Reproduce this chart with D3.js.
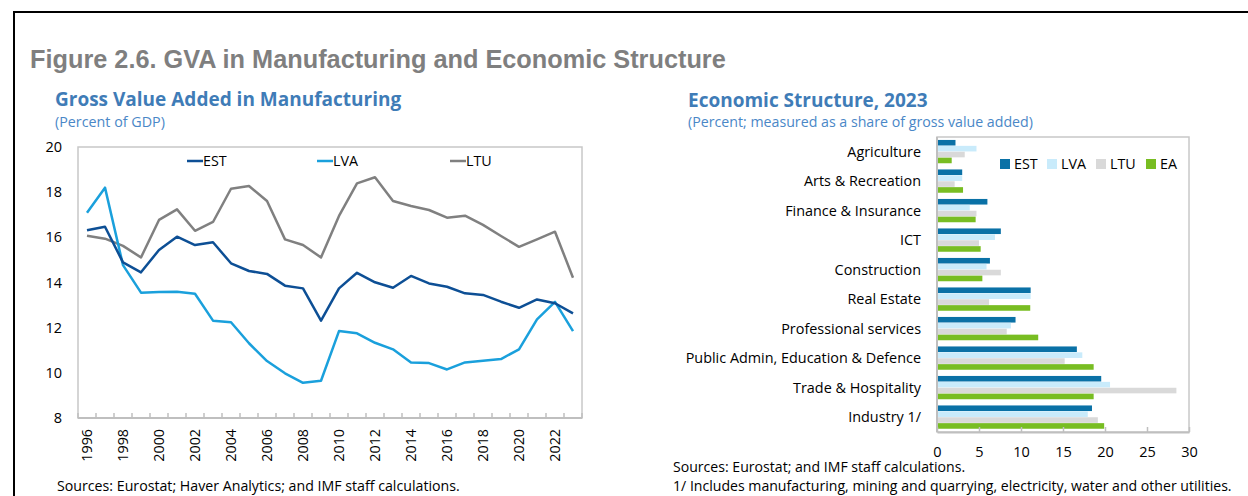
<!DOCTYPE html>
<html>
<head>
<meta charset="utf-8">
<script src="https://cdn.jsdelivr.net/npm/d3@7"></script>
<style>
  body { margin: 0; background: #fff; }
  text { font-family: "Open Sans", "Noto Sans", sans-serif; fill: #000; }
</style>
</head>
<body>
<div class="fig"></div>
<script>
// left panel: gross value added in manufacturing, percent of GDP
var years = [1996, 1997, 1998, 1999, 2000, 2001, 2002, 2003, 2004, 2005, 2006, 2007, 2008, 2009,
             2010, 2011, 2012, 2013, 2014, 2015, 2016, 2017, 2018, 2019, 2020, 2021, 2022, 2023];
var est = [16.31, 16.47, 14.89, 14.45, 15.44, 16.03, 15.66, 15.78, 14.85, 14.51, 14.38, 13.86, 13.74, 12.31,
           13.74, 14.43, 14.01, 13.77, 14.29, 13.96, 13.81, 13.52, 13.45, 13.15, 12.88, 13.25, 13.08, 12.63];
var lva = [17.09, 18.20, 14.77, 13.55, 13.58, 13.59, 13.50, 12.31, 12.24, 11.31, 10.52, 9.98, 9.56, 9.65,
           11.85, 11.75, 11.33, 11.04, 10.46, 10.43, 10.15, 10.46, 10.54, 10.61, 11.04, 12.37, 13.14, 11.85];
var ltu = [16.07, 15.94, 15.62, 15.11, 16.77, 17.24, 16.29, 16.68, 18.15, 18.27, 17.61, 15.91, 15.66, 15.11,
           16.95, 18.39, 18.66, 17.61, 17.39, 17.21, 16.87, 16.96, 16.55, 16.06, 15.58, 15.91, 16.25, 14.21];
var yTicks = [8, 10, 12, 14, 16, 18, 20];

// right panel: economic structure 2023, share of gross value added
var sectors = ["Agriculture", "Arts & Recreation", "Finance & Insurance", "ICT", "Construction",
               "Real Estate", "Professional services", "Public Admin, Education & Defence",
               "Trade & Hospitality", "Industry 1/"];
var shareEST = [2.2, 3.0, 6.0, 7.6, 6.3, 11.15, 9.35, 16.65, 19.55, 18.45];
var shareLVA = [4.7, 3.0, 3.9, 6.9, 5.9, 11.15, 8.8, 17.3, 20.6, 17.95];
var shareLTU = [3.3, 2.1, 4.7, 5.0, 7.6, 6.2, 8.3, 15.2, 28.5, 19.15];
var shareEA = [1.75, 3.1, 4.6, 5.2, 5.4, 11.1, 12.05, 18.65, 18.65, 19.9];
var barTicks = [0, 5, 10, 15, 20, 25, 30];

var svg = d3.select(".fig").append("svg")
    .attr("width", 1248)
    .attr("height", 496);

// outer frame
svg.append("rect")
    .attr("x", 14)
    .attr("y", 12)
    .attr("width", 1300)
    .attr("height", 600)
    .style("fill", "none")
    .style("stroke", "#000")
    .style("stroke-width", "2px");

svg.append("text")
    .text("Figure 2.6. GVA in Manufacturing and Economic Structure")
    .attr("x", 30)
    .attr("y", 68)
    .style("font-family", "'Liberation Sans', Arial, sans-serif")
    .style("font-weight", "bold")
    .style("font-size", "25.3px")
    .style("fill", "#7f7f7f");

// ---------- line chart ----------
var lc = { left: 78, right: 582, top: 147, bottom: 418 };

svg.append("text")
    .text("Gross Value Added in Manufacturing")
    .attr("x", 55)
    .attr("y", 106)
    .style("font-weight", "bold")
    .style("font-size", "19px")
    .style("fill", "#3f7cb7");

svg.append("text")
    .text("(Percent of GDP)")
    .attr("x", 55)
    .attr("y", 127)
    .style("font-size", "14.3px")
    .style("fill", "#4a87c7");

var x = d3.scaleBand()
    .domain(years)
    .range([lc.left, lc.right]);

var y = d3.scaleLinear()
    .domain([8, 20])
    .range([lc.bottom, lc.top]);

svg.append("rect")
    .attr("x", lc.left)
    .attr("y", lc.top)
    .attr("width", lc.right - lc.left)
    .attr("height", lc.bottom - lc.top)
    .style("fill", "none")
    .style("stroke", "#c8c8c8")
    .style("stroke-width", "1.5px");

var yAxis = svg.append("g")
    .attr("transform", "translate(" + lc.left + ",0)")
    .call(d3.axisLeft(y).tickValues(yTicks).tickSize(0).tickPadding(16));
yAxis.select(".domain").remove();
yAxis.selectAll("text")
    .style("font-size", "14.5px")
    .style("font-family", "'Open Sans', sans-serif");

// category axis: ticks sit between the years
var xAxis = svg.append("g");
xAxis.append("line")
    .attr("x1", lc.left)
    .attr("x2", lc.right)
    .attr("y1", lc.bottom)
    .attr("y2", lc.bottom)
    .style("stroke", "#bfbfbf")
    .style("stroke-width", "2px");

xAxis.selectAll(".tk")
    .data(years.concat(["end"]))
  .enter().append("line")
    .attr("class", "tk")
    .attr("x1", function(d) { return d === "end" ? lc.right : x(d); })
    .attr("x2", function(d) { return d === "end" ? lc.right : x(d); })
    .attr("y1", lc.bottom)
    .attr("y2", lc.bottom - 5)
    .style("stroke", "#bfbfbf")
    .style("stroke-width", "1.5px");

xAxis.selectAll(".yl")
    .data(years.filter(function(d) { return d % 2 === 0; }))
  .enter().append("text")
    .attr("class", "yl")
    .text(function(d) { return d; })
    .attr("transform", function(d) {
      return "translate(" + (x(d) + x.bandwidth() / 2 + 5) + "," + (lc.bottom + 11) + ") rotate(-90)";
    })
    .attr("text-anchor", "end")
    .style("font-size", "14.3px");

var line = d3.line()
    .x(function(d, i) { return x(years[i]) + x.bandwidth() / 2; })
    .y(function(d) { return y(d); });

var lineSeries = [
  { name: "LTU", values: ltu, color: "#808080" },
  { name: "LVA", values: lva, color: "#1aa0dc" },
  { name: "EST", values: est, color: "#0d4f95" }
];

svg.selectAll(".series")
    .data(lineSeries)
  .enter().append("path")
    .attr("class", "series")
    .attr("d", function(d) { return line(d.values); })
    .style("fill", "none")
    .style("stroke", function(d) { return d.color; })
    .style("stroke-width", "2.5px")
    .style("stroke-linejoin", "round");

var legendX = { EST: 187, LVA: 317, LTU: 450 };
var leg = svg.selectAll(".lleg")
    .data(lineSeries)
  .enter().append("g")
    .attr("class", "lleg")
    .attr("transform", function(d) { return "translate(" + legendX[d.name] + ",161)"; });
leg.append("line")
    .attr("x2", 16)
    .style("stroke", function(d) { return d.color; })
    .style("stroke-width", "2.5px");
leg.append("text")
    .text(function(d) { return d.name; })
    .attr("x", 16)
    .attr("dy", "0.35em")
    .style("font-size", "14.3px");

svg.append("text")
    .text("Sources: Eurostat; Haver Analytics; and IMF staff calculations.")
    .attr("x", 57)
    .attr("y", 491)
    .style("font-size", "14.2px");

// ---------- bar chart ----------
var bc = { left: 937, right: 1189, top: 137, bottom: 432 };

svg.append("text")
    .text("Economic Structure, 2023")
    .attr("x", 688)
    .attr("y", 107)
    .style("font-weight", "bold")
    .style("font-size", "19px")
    .style("fill", "#3f7cb7");

svg.append("text")
    .text("(Percent; measured as a share of gross value added)")
    .attr("x", 688)
    .attr("y", 127)
    .style("font-size", "14.2px")
    .style("fill", "#4a87c7");

var barSeries = [
  { name: "EST", values: shareEST, color: "#0a71a6" },
  { name: "LVA", values: shareLVA, color: "#c9ebfb" },
  { name: "LTU", values: shareLTU, color: "#d9d9d9" },
  { name: "EA", values: shareEA, color: "#78bd22" }
];

var bx = d3.scaleLinear()
    .domain([0, 30])
    .range([bc.left, bc.right]);

var by = d3.scaleBand()
    .domain(sectors)
    .range([bc.top, bc.bottom]);

var bsub = d3.scaleBand()
    .domain(barSeries.map(function(d) { return d.name; }))
    .range([0, by.bandwidth()])
    .paddingOuter(0.5);

svg.append("rect")
    .attr("x", bc.left)
    .attr("y", bc.top)
    .attr("width", bc.right - bc.left)
    .attr("height", bc.bottom - bc.top)
    .style("fill", "none")
    .style("stroke", "#c8c8c8")
    .style("stroke-width", "1.5px");

var groups = svg.selectAll(".bgroup")
    .data(barSeries)
  .enter().append("g")
    .attr("class", "bgroup")
    .style("fill", function(d) { return d.color; });

groups.selectAll("rect")
    .data(function(s) {
      return s.values.map(function(v, i) { return { sector: sectors[i], value: v, name: s.name }; });
    })
  .enter().append("rect")
    .attr("x", bx(0))
    .attr("y", function(d) { return by(d.sector) + bsub(d.name); })
    .attr("width", function(d) { return bx(d.value) - bx(0); })
    .attr("height", bsub.bandwidth() - 0.3);

svg.append("line")
    .attr("x1", bc.left)
    .attr("x2", bc.left)
    .attr("y1", bc.top)
    .attr("y2", bc.bottom)
    .style("stroke", "#bfbfbf")
    .style("stroke-width", "2px");

var bxAxis = svg.append("g")
    .attr("transform", "translate(0," + bc.bottom + ")")
    .call(d3.axisBottom(bx).tickValues(barTicks).tickSize(0).tickPadding(15));
bxAxis.select(".domain")
    .style("stroke", "#bfbfbf")
    .style("stroke-width", "2px");
bxAxis.selectAll("text")
    .style("font-size", "14.5px")
    .style("font-family", "'Open Sans', sans-serif");
bxAxis.selectAll(".tick").append("line")
    .attr("y2", -5)
    .style("stroke", "#bfbfbf")
    .style("stroke-width", "1.5px");

svg.selectAll(".slab")
    .data(sectors)
  .enter().append("text")
    .attr("class", "slab")
    .text(function(d) { return d; })
    .attr("x", 921)
    .attr("y", function(d) { return by(d) + by.bandwidth() / 2; })
    .attr("dy", "0.35em")
    .attr("text-anchor", "end")
    .style("font-size", "14.4px");

var bLegX = { EST: 1000, LVA: 1047, LTU: 1096, EA: 1146 };
var bleg = svg.selectAll(".bleg")
    .data(barSeries)
  .enter().append("g")
    .attr("class", "bleg")
    .attr("transform", function(d) { return "translate(" + bLegX[d.name] + ",164)"; });
bleg.append("rect")
    .attr("y", -5)
    .attr("width", 10)
    .attr("height", 10)
    .style("fill", function(d) { return d.color; });
bleg.append("text")
    .text(function(d) { return d.name; })
    .attr("x", 14)
    .attr("dy", "0.35em")
    .style("font-size", "14.3px");

svg.append("text")
    .text("Sources: Eurostat; and IMF staff calculations.")
    .attr("x", 673)
    .attr("y", 472)
    .style("font-size", "14.1px");

svg.append("text")
    .text("1/ Includes manufacturing, mining and quarrying, electricity, water and other utilities.")
    .attr("x", 673)
    .attr("y", 491)
    .style("font-size", "14.1px");
</script>
</body>
</html>
